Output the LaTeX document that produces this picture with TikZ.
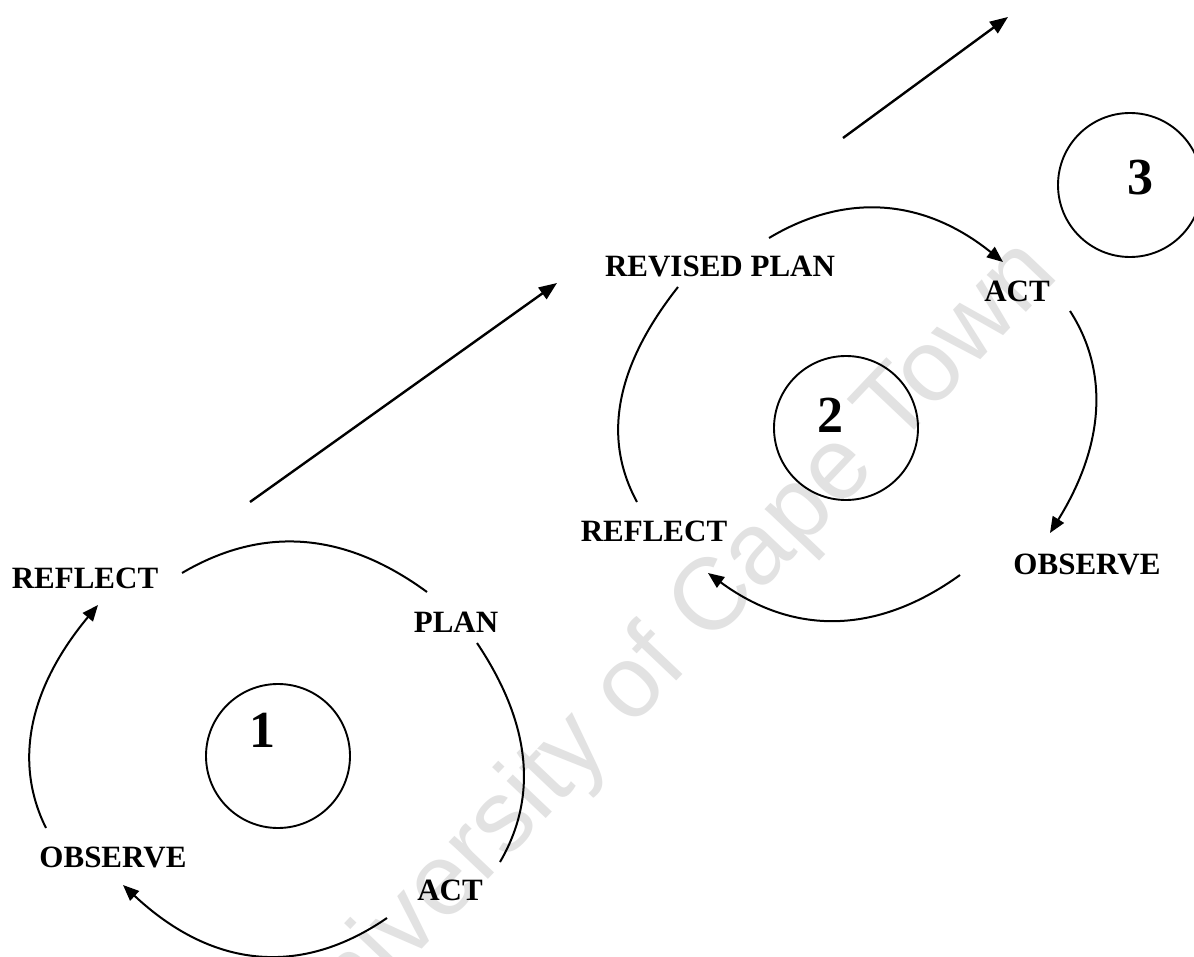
\documentclass[tikz,border=0pt]{standalone}
\usepackage{fontspec}
\setmainfont{Liberation Serif}
\newfontfamily\wmfont{Liberation Sans}
\usetikzlibrary{arrows.meta}
\definecolor{wmgray}{RGB}{226,226,226}
\tikzset{
  lbl/.style={font=\bfseries\fontsize{15.5}{18}\selectfont, inner sep=0pt},
  num/.style={font=\bfseries\fontsize{26}{30}\selectfont, inner sep=0pt},
  ring/.style={draw, circle, line width=0.95pt, minimum size=72pt, inner sep=0pt},
  cyc/.style={line width=1pt},
  cycarr/.style={cyc, -{Triangle[length=8pt,width=6.5pt]}},
  adv/.style={line width=1.2pt, -{Triangle[length=9pt,width=7pt]}},
  wm/.style={font=\wmfont\fontsize{51}{55}\selectfont, text=wmgray, rotate=46.5, inner sep=0pt}
}
\begin{document}
\begin{tikzpicture}[x=0.5pt,y=-0.5pt]
\useasboundingbox (0,0) rectangle (1194,957);
\fill[white] (0,0) rectangle (1194,957);

% faint watermark behind everything
\node[wm] (wmark) at (663,657) {University of Cape Town};

% ---------- cycle 1 ----------
\node[lbl] (r1) at (85,578) {REFLECT};
\node[lbl] (p1) at (456,622) {PLAN};
\node[lbl] (o1) at (113,857) {OBSERVE};
\node[lbl] (a1) at (450,890) {ACT};
\node[ring] (k1) at (278,756) {};
\node[num] (n1) at (262,730) {1};

\coordinate (c1ts) at (182,573);  \coordinate (c1te) at (427,592);
\coordinate (c1rs) at (477,643);  \coordinate (c1re) at (500,862);
\coordinate (c1bs) at (387,918);  \coordinate (c1be) at (123,885);
\coordinate (c1ls) at (46,828);   \coordinate (c1le) at (98,605);

\draw[cyc] (c1ts) .. controls (263,525.3) and (344.7,531.7) .. (c1te);
\draw[cyc] (c1rs) .. controls (530.7,723.3) and (538.3,796.3) .. (c1re);
\draw[cycarr] (c1bs) .. controls (299,978.3) and (211,967.3) .. (c1be);
\draw[cycarr] (c1ls) .. controls (12.7,761) and (30,686.7) .. (c1le);

% ---------- cycle 2 ----------
\node[lbl] (rp2) at (720,266) {REVISED PLAN};
\node[lbl] (a2) at (1017,291) {ACT};
\node[lbl] (r2) at (654,531) {REFLECT};
\node[lbl] (o2) at (1087,564) {OBSERVE};
\node[ring] (k2) at (846,428) {};
\node[num] (n2) at (830,415) {2};

\coordinate (c2ts) at (769,238);  \coordinate (c2te) at (1003,262);
\coordinate (c2rs) at (1070,311); \coordinate (c2re) at (1050,533);
\coordinate (c2bs) at (960,575);  \coordinate (c2be) at (708,573);
\coordinate (c2ls) at (637,502);  \coordinate (c2le) at (678,287);

\draw[cycarr] (c2ts) .. controls (847,191.3) and (925,199.3) .. (c2te);
\draw[cycarr] (c2rs) .. controls (1110,373) and (1103.3,447) .. (c2re);
\draw[cycarr] (c2bs) .. controls (875.7,635.7) and (792.3,635) .. (c2be);
\draw[cyc] (c2ls) .. controls (602,437.7) and (615.7,366) .. (c2le);

% ---------- cycle 3 ----------
\node[ring] (k3) at (1130,185) {};
\node[num] (n3) at (1140,178) {3};

% ---------- progression arrows ----------
\coordinate (g1s) at (250,502);  \coordinate (g1e) at (557,283);
\coordinate (g2s) at (843,138);  \coordinate (g2e) at (1008,17);
\draw[adv] (g1s) -- (g1e);
\draw[adv] (g2s) -- (g2e);
\end{tikzpicture}
\end{document}
